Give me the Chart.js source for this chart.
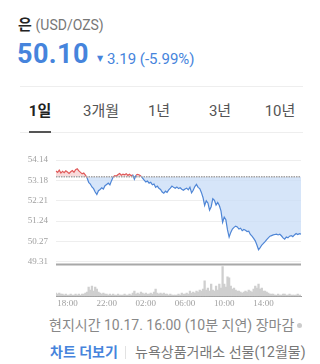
<!DOCTYPE html>
<html>
<head>
<meta charset="utf-8">
<script src="https://cdn.jsdelivr.net/npm/chart.js@4.4.1/dist/chart.umd.min.js"></script>
<style>
  body { margin: 0; background: #fff; width: 320px; height: 364px; overflow: hidden; position: relative;
         font-family: Roboto, "Noto Sans CJK KR", sans-serif; }
  .abs { position: absolute; white-space: nowrap; line-height: 1; }
  .blue { color: #4684dc; }
  .line { position: absolute; height: 1px; background: #eeeeee; }
  .tab { position: absolute; top: 104px; font-size: 15px; color: #555; line-height: 1; transform: translateX(-50%); }
  #chartBox { position: absolute; left: 0; top: 140px; width: 320px; height: 175px; }
</style>
</head>
<body>
  <div class="abs" style="left:18px;top:18px;font-size:15px;">
    <b style="color:#222">은</b> <span style="color:#777;font-size:14px">(USD/OZS)</span>
  </div>
  <div class="abs blue" style="left:17px;top:41px;font-size:27px;font-weight:bold;letter-spacing:0.4px;">50.10</div>
  <div class="abs blue" style="left:97px;top:52px;font-size:15px;">
    <span style="font-size:8px;position:relative;top:-3px;font-family:'DejaVu Sans'">▼</span> 3.19 (-5.99%)
  </div>

  <div class="line" style="left:20px;top:86px;width:283px;"></div>
  <div class="tab" style="left:40px;color:#222;font-weight:bold;">1일</div>
  <div class="tab" style="left:101px;">3개월</div>
  <div class="tab" style="left:159px;">1년</div>
  <div class="tab" style="left:220px;">3년</div>
  <div class="tab" style="left:280px;">10년</div>
  <div class="line" style="left:20px;top:132px;width:283px;"></div>
  <div class="abs" style="left:29px;top:131px;width:22px;height:2px;background:#555;"></div>

  <div id="chartBox"><canvas id="chart"></canvas></div>

  <div class="abs" style="left:49px;top:318px;font-size:14px;color:#888;">현지시간 10.17. 16:00 (10분 지연) 장마감</div>
  <div class="abs" style="left:297px;top:323px;width:5px;height:5px;border-radius:50%;background:#ccc;"></div>
  <div class="abs blue" style="left:50px;top:345px;font-size:14px;font-weight:bold;">차트 더보기</div>
  <div class="abs" style="left:125px;top:346px;width:1px;height:13px;background:#e2e2e2;"></div>
  <div class="abs" style="left:135px;top:345px;font-size:14px;color:#777;">뉴욕상품거래소 선물(12월물)</div>

<script>
// previous close (dashed line) and axis ticks
const prevClose = 53.35;
const yTicks = [49.31, 50.27, 51.24, 52.21, 53.18, 54.14];
const xTickLabels = ['18:00', '22:00', '02:00', '06:00', '10:00', '14:00'];

// price every 10 min, 16:50 -> 17:50 next day
const prices = [
  53.62, 53.55, 53.66, 53.52, 53.60, 53.54, 53.63, 53.57, 53.50, 53.58,
  53.64, 53.56, 53.68, 53.72, 53.62, 53.55, 53.48, 53.52, 53.42, 53.30,
  53.08, 53.00, 52.86, 52.78, 52.62, 52.50, 52.68, 52.74, 52.82, 52.76,
  52.92, 52.98, 53.04, 52.96, 53.16, 53.33, 53.40, 53.38, 53.45, 53.50,
  53.42, 53.47, 53.44, 53.49, 53.41, 53.46, 53.39, 53.44, 53.22, 53.42,
  53.46, 53.43, 53.38, 53.28, 53.18, 53.10, 53.14, 53.04, 53.08, 52.96,
  53.00, 52.84, 52.90, 52.80, 52.74, 52.62, 52.56, 52.66, 52.60, 52.72,
  52.80, 52.90, 52.84, 52.80, 52.86, 52.78, 52.82, 52.75, 52.70, 52.76,
  52.80, 52.72, 52.85, 52.58, 52.70, 52.88, 52.98, 52.84, 52.78, 52.60,
  52.36, 51.98, 52.20, 52.10, 51.76, 51.92, 52.30, 52.22, 52.00, 52.12,
  51.98, 51.72, 51.18, 51.42, 51.30, 50.82, 50.48, 50.70, 50.86, 50.94,
  51.00, 50.96, 50.86, 50.90, 50.78, 50.84, 50.80, 50.74, 50.76, 50.60,
  50.52, 50.42, 50.30, 50.10, 49.88, 49.98, 50.10, 50.18, 50.26, 50.36,
  50.44, 50.52, 50.55, 50.58, 50.60, 50.62, 50.58, 50.61, 50.54, 50.44,
  50.38, 50.48, 50.44, 50.52, 50.55, 50.50, 50.58, 50.65, 50.60, 50.64,
  50.62
];

const volumes = [
  3, 2, 3, 2, 2, 1, 2, 1, 1, 2, 1, 1, 2, 1, 2, 1, 2, 2, 3, 4,
  9, 6, 10, 5, 9, 7, 4, 3, 2, 3, 2, 2, 1, 2, 1, 2, 1, 1, 2, 1,
  1, 1, 2, 1, 1, 2, 1, 3, 5, 2, 3, 2, 4, 3, 2, 3, 2, 2, 3, 2,
  4, 7, 3, 2, 3, 2, 3, 2, 2, 1, 2, 1, 1, 1, 1, 2, 1, 3, 2, 2,
  3, 2, 5, 3, 4, 3, 5, 4, 6, 5, 7, 15, 6, 8, 5, 12, 6, 5, 10, 6,
  12, 8, 29, 12, 9, 19, 18, 10, 7, 8, 6, 5, 5, 4, 3, 4, 5, 4, 6, 5,
  4, 7, 10, 8, 12, 7, 8, 5, 5, 4, 3, 2, 2, 2, 1, 1, 2, 1, 1, 2,
  2, 1, 1, 2, 1, 1, 1, 1, 2, 1, 1
];

const times = [];
for (let i = 0; i < prices.length; i++) {
  const m = (16 * 60 + 50 + i * 10) % 1440;
  times.push(String(Math.floor(m / 60)).padStart(2, '0') + ':' + String(m % 60).padStart(2, '0'));
}

const RED = '#e05a5a';
const BLUE = '#4f86d6';
const tickFont = { family: '"Liberation Serif", "DejaVu Serif", serif', size: 9 };

const refLine = {
  id: 'refLine',
  afterDatasetsDraw(chart) {
    const { ctx, chartArea, scales } = chart;
    const y = scales.y.getPixelForValue(prevClose);
    ctx.save();
    ctx.strokeStyle = '#a4a4a4';
    ctx.lineWidth = 1.5;
    ctx.setLineDash([1.5, 1]);
    ctx.beginPath();
    ctx.moveTo(chartArea.left, y);
    ctx.lineTo(chartArea.right, y);
    ctx.stroke();
    // bottom border of price area
    ctx.setLineDash([]);
    ctx.strokeStyle = '#a8a8a8';
    ctx.lineWidth = 2;
    ctx.beginPath();
    ctx.moveTo(chartArea.left, scales.y.bottom);
    ctx.lineTo(chartArea.right, scales.y.bottom);
    ctx.stroke();
    ctx.restore();
  }
};

new Chart(document.getElementById('chart'), {
  type: 'line',
  data: {
    labels: times,
    datasets: [
      {
        type: 'line',
        data: prices,
        yAxisID: 'y',
        borderWidth: 1.2,
        pointRadius: 0,
        tension: 0,
        borderColor: BLUE,
        segment: {
          borderColor: (c) => ((c.p0.parsed.y + c.p1.parsed.y) / 2 >= prevClose ? RED : BLUE),
        },
        fill: { value: prevClose, above: 'rgba(242,190,190,0.55)', below: 'rgba(200,220,247,0.75)' },
      },
      {
        type: 'bar',
        data: volumes,
        yAxisID: 'v',
        backgroundColor: '#cfcfcf',
        barPercentage: 1,
        categoryPercentage: 1,
      },
    ],
  },
  options: {
    responsive: true,
    maintainAspectRatio: false,
    animation: false,
    layout: { padding: { top: 20, right: 19, bottom: 4, left: 0 } },
    plugins: { legend: { display: false }, tooltip: { enabled: false } },
    scales: {
      x: {
        offset: false,
        grid: { display: false, drawTicks: false },
        border: { display: true, color: '#9a9a9a', width: 1 },
        ticks: {
          autoSkip: false,
          maxRotation: 0,
          padding: 2,
          color: '#a0a0a0',
          font: tickFont,
          callback: function (value) {
            const l = this.getLabelForValue(value);
            return xTickLabels.includes(l) ? l : null;
          },
        },
      },
      // volume listed first so the price axis sits on top of the stack
      v: {
        position: 'left',
        stack: 'main',
        stackWeight: 32,
        min: 0,
        max: 31,
        afterFit: (s) => { s.width = 56; },
        grid: { display: false, drawTicks: false },
        border: { display: false },
        ticks: { display: false },
      },
      y: {
        position: 'left',
        stack: 'main',
        stackWeight: 106,
        min: 49.17,
        max: 54.14,
        afterBuildTicks: (s) => { s.ticks = yTicks.map((v) => ({ value: v })); },
        afterFit: (s) => { s.width = 56; },
        grid: { color: '#eeeeee', drawTicks: false },
        border: { display: false },
        ticks: { autoSkip: false, padding: 8, color: '#a0a0a0', font: tickFont, callback: (v) => v.toFixed(2) },
      },
    },
  },
  plugins: [refLine],
});
</script>
</body>
</html>
